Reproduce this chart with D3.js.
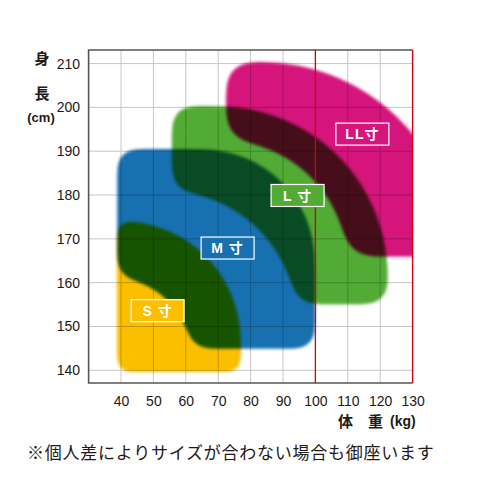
<!DOCTYPE html>
<html>
<head>
<meta charset="utf-8">
<script src="https://cdn.jsdelivr.net/npm/d3@7"></script>
<style>
html, body { margin: 0; padding: 0; background: #fff; }
svg { display: block; }
</style>
</head>
<body>
<script>
// size chart: weight (kg) x height (cm) ranges per size
const sizes = ["S", "M", "L", "LL"];
const sizeLabels = ["S 寸", "M 寸", "L 寸", "LL寸"];
const weightMin = [38.8, 38.8, 55.7, 72.4];
const weightMax = [77.0, 99.9, 122.4, 143.7];
const heightMin = [139.6, 144.9, 155.1, 165.9];
const heightMax = [174.1, 190.5, 200.3, 210.4];
const roundKg = [37.0, 34.6, 52.2, 60.2];        // top-right rounding of each area
const cutWeight = [null, 61.9, 94.6, 110.1];     // corner of the area left out (bottom-left)
const cutHeight = [null, 161.3, 181.1, 192.6];
const cutRoundKg = [null, 24.7, 41.0, 38.6];
const labelWeight = [51.3, 72.9, 94.5, 114.5];
const labelHeight = [153.6, 167.9, 179.9, 193.9];

const weightTicks = [40, 50, 60, 70, 80, 90, 100, 110, 120, 130];
const heightTicks = [140, 150, 160, 170, 180, 190, 200, 210];
const limitWeight = 100;

// styles
const colors = ["#fbbf00", "#1770b0", "#52ab34", "#d5147c"];
const softness = [7.5, 11, 12, 15];
const W = 480, H = 480;
const plot = { left: 88.6, right: 412.6, top: 50, bottom: 383 };

const x = d3.scaleLinear().domain([30, 130]).range([plot.left, plot.right]);
const y = d3.scaleLinear().domain([137.1, 213.1]).range([plot.bottom, plot.top]);
const kx = k => x(k) - x(0);

const svg = d3.select("body").append("svg")
    .attr("width", W)
    .attr("height", H);

const defs = svg.append("defs");

defs.append("clipPath")
    .attr("id", "plotClip")
    .append("rect")
    .attr("x", plot.left)
    .attr("y", plot.top)
    .attr("width", plot.right - plot.left)
    .attr("height", plot.bottom - plot.top);

const data = sizes.map((s, i) => ({
    name: s,
    label: sizeLabels[i],
    i: i,
    w0: weightMin[i], w1: weightMax[i],
    h0: heightMin[i], h1: heightMax[i],
    r: roundKg[i],
    cw: cutWeight[i], ch: cutHeight[i], cr: cutRoundKg[i],
    lw: labelWeight[i], lh: labelHeight[i]
}));

// soft edge filters (round corners, then blur the edge)
data.forEach(d => {
    const f = defs.append("filter")
        .attr("id", "soft" + d.i)
        .attr("x", "-20%").attr("y", "-20%")
        .attr("width", "140%").attr("height", "140%")
        .attr("color-interpolation-filters", "sRGB");
    f.append("feGaussianBlur")
        .attr("in", "SourceGraphic")
        .attr("stdDeviation", softness[d.i])
        .attr("result", "b");
    f.append("feComponentTransfer")
        .attr("in", "b")
        .attr("result", "g")
        .append("feFuncA")
        .attr("type", "linear")
        .attr("slope", 24)
        .attr("intercept", -11.5);
    f.append("feGaussianBlur")
        .attr("in", "g")
        .attr("stdDeviation", 1.8);

    if (d.cw !== null) {
        const L = x(d.w0) - 60, B = y(d.h0) + 60;
        const cx = x(d.cw), cy = y(d.ch), rc = kx(d.cr);
        const m = defs.append("mask")
            .attr("id", "cut" + d.i)
            .attr("maskUnits", "userSpaceOnUse")
            .attr("x", 0).attr("y", 0)
            .attr("width", W).attr("height", H);
        m.append("rect")
            .attr("width", W).attr("height", H)
            .attr("fill", "#fff");
        m.append("path")
            .attr("fill", "#000")
            .attr("d", `M${L},${cy} H${cx - rc} A${rc},${rc} 0 0 1 ${cx},${cy + rc} V${B} H${L} Z`);
    }
});

function areaPath(d) {
    const L = x(d.w0), R = x(d.w1), T = y(d.h1), B = y(d.h0);
    const r = Math.min(kx(d.r), B - T, R - L);
    return `M${L},${B} V${T} H${R - r} A${r},${r} 0 0 1 ${R},${T + r} V${B} Z`;
}

// plot body (isolated so multiply blends with white + grid)
const body = svg.append("g")
    .attr("clip-path", "url(#plotClip)");

body.append("rect")
    .attr("x", plot.left)
    .attr("y", plot.top)
    .attr("width", plot.right - plot.left)
    .attr("height", plot.bottom - plot.top)
    .attr("fill", "#fff");

body.append("g")
    .selectAll("line")
    .data(weightTicks.filter(v => v < 130))
    .join("line")
    .attr("x1", d => x(d)).attr("x2", d => x(d))
    .attr("y1", plot.top).attr("y2", plot.bottom)
    .attr("stroke", "#c6c6c6")
    .attr("stroke-width", 1);

body.append("g")
    .selectAll("line")
    .data(heightTicks)
    .join("line")
    .attr("y1", d => y(d)).attr("y2", d => y(d))
    .attr("x1", plot.left).attr("x2", plot.right)
    .attr("stroke", "#c6c6c6")
    .attr("stroke-width", 1);

body.selectAll(".area")
    .data(data)
    .join("g")
    .classed("area", true)
    .style("mix-blend-mode", "multiply")
    .append("g")
    .attr("filter", d => `url(#soft${d.i})`)
    .append("path")
    .attr("d", areaPath)
    .attr("fill", d => colors[d.i])
    .attr("mask", d => d.cw !== null ? `url(#cut${d.i})` : null);

// frame and 100 kg limit line
svg.append("path")
    .attr("d", `M${plot.right},${plot.top} H${plot.left} V${plot.bottom} H${plot.right}`)
    .attr("fill", "none")
    .attr("stroke", "#555")
    .attr("stroke-width", 1.6);

svg.append("line")
    .attr("x1", plot.right).attr("x2", plot.right)
    .attr("y1", plot.top).attr("y2", plot.bottom)
    .attr("stroke", "#d8000f")
    .attr("stroke-width", 1.4);

svg.append("line")
    .attr("x1", x(limitWeight)).attr("x2", x(limitWeight))
    .attr("y1", plot.top).attr("y2", plot.bottom)
    .attr("stroke", "#d8000f")
    .attr("stroke-width", 1.3);

// size labels
const labels = svg.append("g")
    .selectAll("g")
    .data(data)
    .join("g")
    .attr("transform", d => `translate(${x(d.lw)},${y(d.lh)})`);

labels.append("rect")
    .attr("x", -26.5).attr("y", -11)
    .attr("width", 53).attr("height", 22)
    .attr("fill", d => colors[d.i])
    .attr("stroke", "#fff")
    .attr("stroke-width", 1.2);

labels.append("text")
    .attr("text-anchor", "middle")
    .attr("dy", "0.37em")
    .attr("fill", "#fff")
    .style("font", "bold 14px 'Liberation Sans', 'Noto Sans CJK JP', sans-serif")
    .style("white-space", "pre")
    .attr("letter-spacing", 1)
    .text(d => d.label);

// axes
const xAxis = svg.append("g")
    .attr("transform", `translate(0,${plot.bottom})`)
    .call(d3.axisBottom(x).tickValues(weightTicks).tickSize(0).tickPadding(13));

const yAxis = svg.append("g")
    .attr("transform", `translate(${plot.left},0)`)
    .call(d3.axisLeft(y).tickValues(heightTicks).tickSize(0).tickPadding(8.6));

[xAxis, yAxis].forEach(a => {
    a.select(".domain").remove();
    a.selectAll("text")
        .attr("fill", "#231815")
        .style("font", "14px 'Liberation Sans', Arial, sans-serif");
});

// axis titles
const titleFont = "bold 15px 'Noto Sans CJK JP', sans-serif";
svg.append("text").attr("x", 42).attr("y", 64).attr("text-anchor", "middle")
    .style("font", titleFont).attr("fill", "#231815").text("身");
svg.append("text").attr("x", 42).attr("y", 99).attr("text-anchor", "middle")
    .style("font", titleFont).attr("fill", "#231815").text("長");
svg.append("text").attr("x", 41).attr("y", 122).attr("text-anchor", "middle")
    .style("font", "bold 13px 'Liberation Sans', Arial, sans-serif").attr("fill", "#231815").text("(cm)");

svg.append("text").attr("x", 338).attr("y", 426.5)
    .style("font", titleFont).attr("fill", "#231815").text("体");
svg.append("text").attr("x", 368).attr("y", 426.5)
    .style("font", titleFont).attr("fill", "#231815").text("重");
svg.append("text").attr("x", 390).attr("y", 425.5)
    .style("font", "bold 14px 'Liberation Sans', Arial, sans-serif").attr("fill", "#231815").text("(kg)");

// note
svg.append("text")
    .attr("x", 27)
    .attr("y", 459)
    .attr("fill", "#231815")
    .attr("letter-spacing", 0.75)
    .style("font", "17px 'Noto Sans CJK JP', sans-serif")
    .text("※個人差によりサイズが合わない場合も御座います");
</script>
</body>
</html>
